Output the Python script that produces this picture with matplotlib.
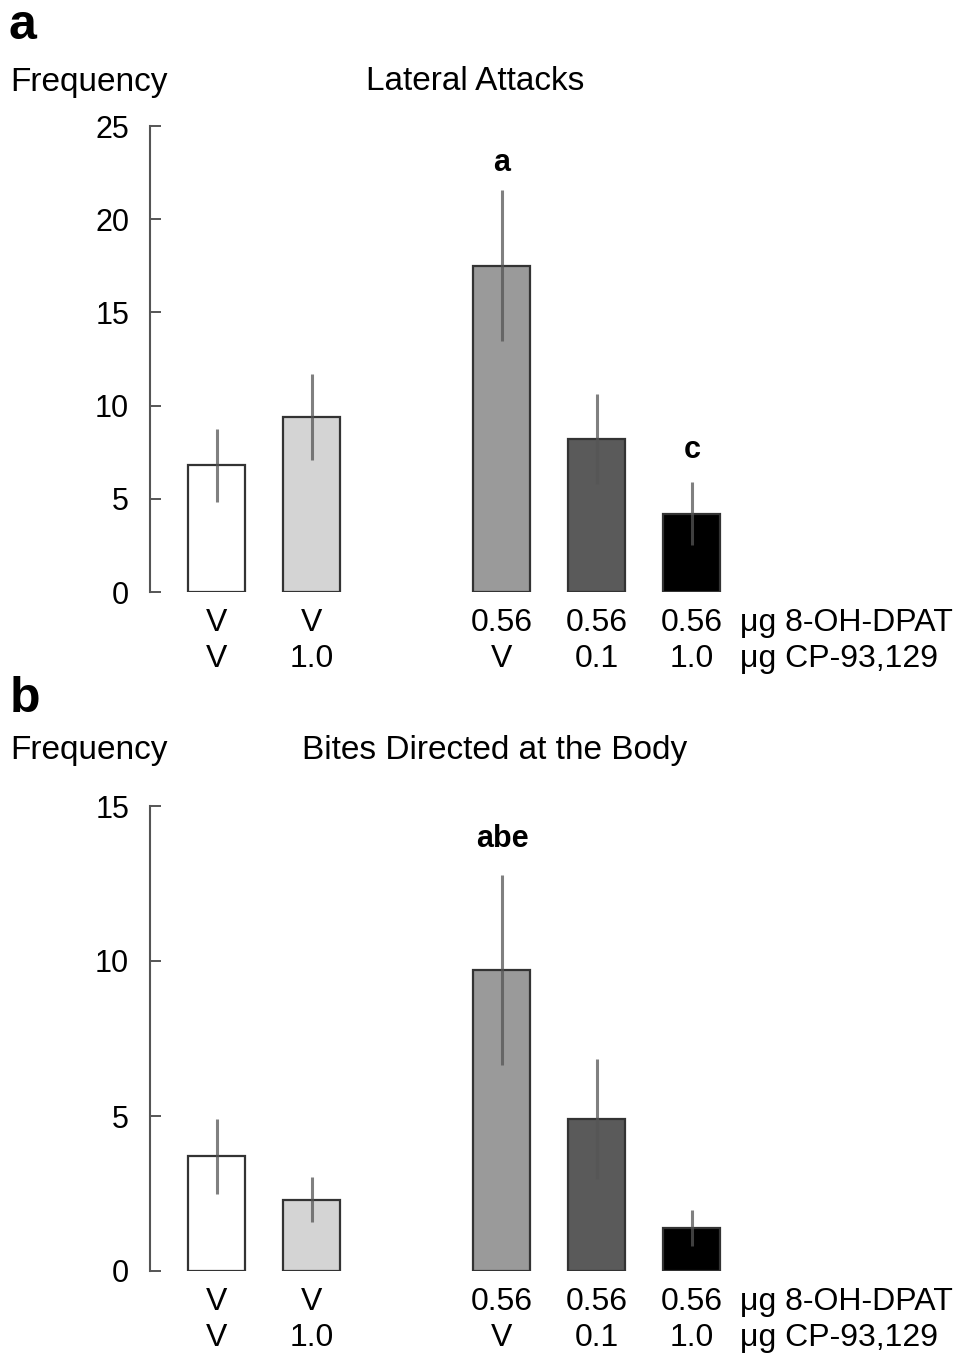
import matplotlib.pyplot as plt
import numpy as np

plt.rcParams["font.family"] = ["Liberation Sans", "DejaVu Sans"]

positions = [0, 1, 3, 4, 5]
bar_colors = ["#ffffff", "#d4d4d4", "#9a9a9a", "#5a5a5a", "#000000"]
dpat_labels = ["V", "V", "0.56", "0.56", "0.56"]
cp_labels = ["V", "1.0", "V", "0.1", "1.0"]

attacks_mean = [6.8, 9.4, 17.5, 8.2, 4.2]
attacks_err = [1.95, 2.3, 4.05, 2.4, 1.7]
attacks_letters = {3: "a", 5: "c"}
attacks_letter_y = [23.0, 7.6]

bites_mean = [3.7, 2.3, 9.7, 4.9, 1.4]
bites_err = [1.2, 0.72, 3.06, 1.93, 0.58]
bites_letters = {3: "abe"}
bites_letter_y = [13.95]

W, H = 969, 1357
fig = plt.figure(figsize=(W / 100, H / 100), dpi=100)


def px_box(left, top, right, bottom):
    return [left / W, 1 - bottom / H, (right - left) / W, (bottom - top) / H]


def draw_panel(ax, means, errs, letters, letter_y, ymax, yticks):
    ax.bar(positions, means, width=0.6, color=bar_colors, edgecolor="#333333",
           linewidth=1.6, zorder=2)
    ax.errorbar(positions, means, yerr=errs, fmt="none", ecolor="#555555",
                elinewidth=2.2, capsize=0, alpha=0.75, zorder=3)
    for (pos, txt), y in zip(letters.items(), letter_y):
        ax.text(pos, y, txt, ha="center", va="center", fontsize=22,
                fontweight="bold")
    ax.set_xlim(-0.705, 5.5)
    ax.set_ylim(0, ymax)
    ax.set_yticks(yticks)
    ax.tick_params(axis="y", direction="in", length=8, width=1.4,
                   color="#555555", labelsize=22, pad=15)
    ax.tick_params(axis="x", bottom=False, labelbottom=False)
    for side in ["top", "right", "bottom"]:
        ax.spines[side].set_visible(False)
    ax.spines["left"].set_color("#555555")
    ax.spines["left"].set_linewidth(1.5)
    trans = ax.get_xaxis_transform()
    for pos, top_lab, bot_lab in zip(positions, dpat_labels, cp_labels):
        ax.annotate(top_lab, (pos, 0), xycoords=trans, xytext=(0, -22.5),
                    textcoords="offset points", ha="center", va="center",
                    fontsize=23)
        ax.annotate(bot_lab, (pos, 0), xycoords=trans, xytext=(0, -48),
                    textcoords="offset points", ha="center", va="center",
                    fontsize=23)
    ax.annotate("μg 8-OH-DPAT", (5.5, 0), xycoords=trans, xytext=(0, -22.5),
                textcoords="offset points", ha="left", va="center", fontsize=23)
    ax.annotate("μg CP-93,129", (5.5, 0), xycoords=trans, xytext=(0, -48),
                textcoords="offset points", ha="left", va="center", fontsize=23)


ax_a = fig.add_axes(px_box(150, 126, 739.5, 592))
draw_panel(ax_a, attacks_mean, attacks_err, attacks_letters, attacks_letter_y,
           25, [0, 5, 10, 15, 20, 25])

ax_b = fig.add_axes(px_box(150, 806, 739.5, 1271))
draw_panel(ax_b, bites_mean, bites_err, bites_letters, bites_letter_y,
           15, [0, 5, 10, 15])

fig.text(9 / W, 1 - 26 / H, "a", fontsize=36, fontweight="bold", va="center")
fig.text(10 / W, 1 - 82 / H, "Frequency", fontsize=24, va="center")
fig.text(475 / W, 1 - 82 / H, "Lateral Attacks", fontsize=24, va="center",
         ha="center")
fig.text(10 / W, 1 - 699 / H, "b", fontsize=36, fontweight="bold", va="center")
fig.text(10 / W, 1 - 750 / H, "Frequency", fontsize=24, va="center")
fig.text(495 / W, 1 - 750 / H, "Bites Directed at the Body", fontsize=24,
         va="center", ha="center")

fig.savefig("out.png", dpi=100)
